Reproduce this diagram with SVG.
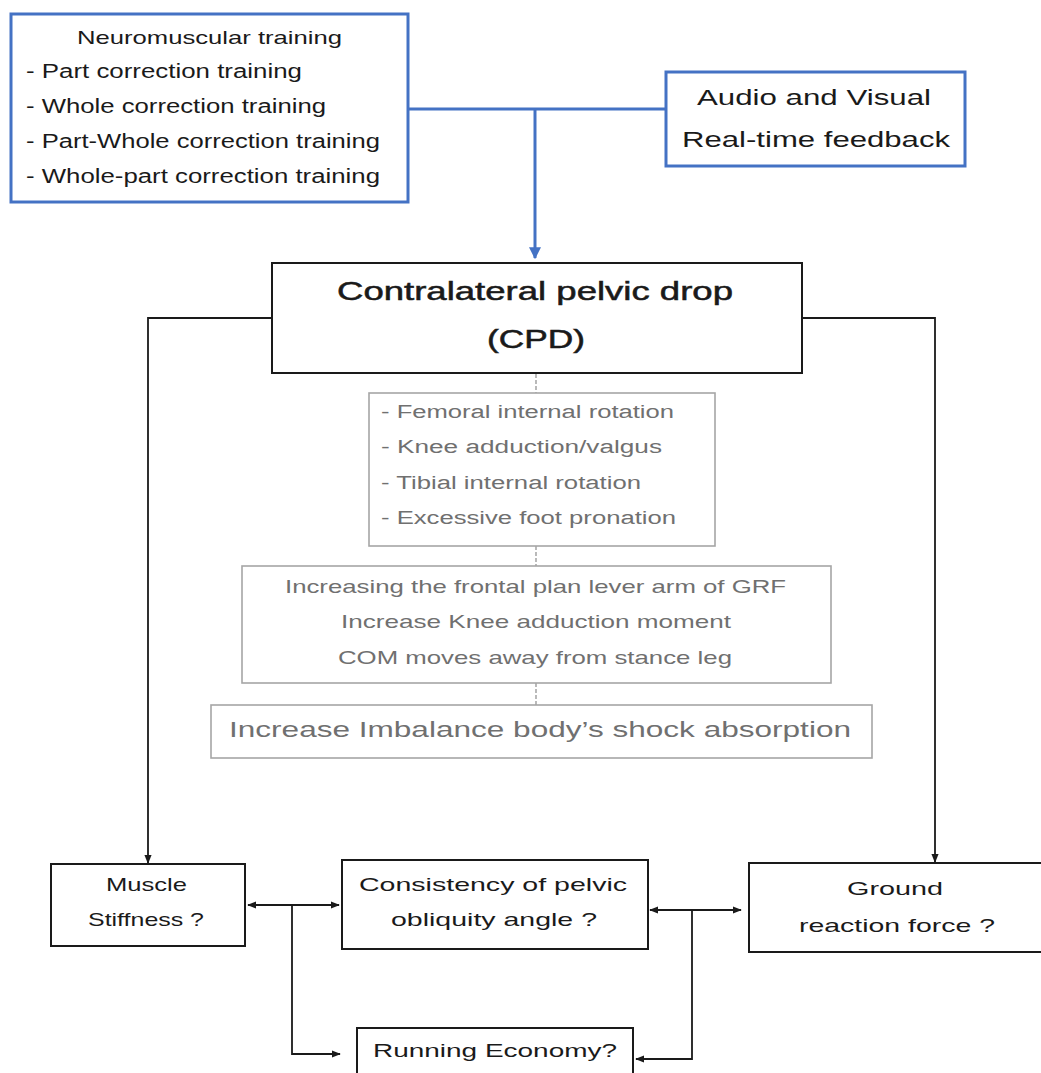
<svg xmlns="http://www.w3.org/2000/svg" width="1041" height="1073" viewBox="0 0 1041 1073">
  <style>
    text { font-family: "Liberation Sans", Arial, sans-serif; fill: #1a1a1a; }
    .blue { fill: #ffffff; stroke: #4472c4; stroke-width: 3; }
    .blk { fill: #ffffff; stroke: #1a1a1a; stroke-width: 2; }
    .gry { fill: #ffffff; stroke: #a6a6a6; stroke-width: 1.6; }
    .gt { fill: #707070; }
    .bl { fill: none; stroke: #4472c4; stroke-width: 3; }
    .kl { fill: none; stroke: #1a1a1a; stroke-width: 1.8; }
    .dl { fill: none; stroke: #8c8c8c; stroke-width: 1.2; stroke-dasharray: 4 2; }
    .cpd { stroke: #1a1a1a; stroke-width: 0.5; }
  </style>
  <defs>
    <marker id="ab" viewBox="0 0 10 10" refX="9" refY="5" markerWidth="4" markerHeight="4" orient="auto" markerUnits="strokeWidth">
      <path d="M0,0 L10,5 L0,10 z" fill="#4472c4"/>
    </marker>
    <marker id="ak" viewBox="0 0 10 10" refX="9" refY="5" markerWidth="5" markerHeight="5" orient="auto-start-reverse" markerUnits="strokeWidth">
      <path d="M0,1 L10,5 L0,9 z" fill="#1a1a1a"/>
    </marker>
  </defs>

  <g id="connectors">
    <path class="bl" d="M408,109 H667"/>
    <path class="bl" d="M535,109 V258" marker-end="url(#ab)"/>
    <path class="kl" d="M272,318 H148 V863" marker-end="url(#ak)"/>
    <path class="kl" d="M802,318 H935 V862" marker-end="url(#ak)"/>
    <path class="dl" d="M536,374 V393"/>
    <path class="dl" d="M536,546 V566"/>
    <path class="dl" d="M536,683 V705"/>
    <path class="kl" d="M248,905 H339" marker-start="url(#ak)" marker-end="url(#ak)"/>
    <path class="kl" d="M292,905 V1054 H340" marker-end="url(#ak)"/>
    <path class="kl" d="M650,910 H741" marker-start="url(#ak)" marker-end="url(#ak)"/>
    <path class="kl" d="M692,910 V1059 H636" marker-end="url(#ak)"/>
  </g>

  <g id="neuromuscular">
    <rect class="blue" x="11" y="14" width="397" height="188"/>
    <text x="77" y="44" font-size="18.5" textLength="265" lengthAdjust="spacingAndGlyphs">Neuromuscular training</text>
    <text x="26" y="78" font-size="19.5" textLength="276" lengthAdjust="spacingAndGlyphs">- Part correction training</text>
    <text x="26" y="113" font-size="19.5" textLength="300" lengthAdjust="spacingAndGlyphs">- Whole correction training</text>
    <text x="26" y="148" font-size="19.5" textLength="354" lengthAdjust="spacingAndGlyphs">- Part-Whole correction training</text>
    <text x="26" y="183" font-size="19.5" textLength="354" lengthAdjust="spacingAndGlyphs">- Whole-part correction training</text>
  </g>

  <g id="feedback">
    <rect class="blue" x="666" y="72" width="299" height="94"/>
    <text x="697" y="105" font-size="22" textLength="234" lengthAdjust="spacingAndGlyphs">Audio and Visual</text>
    <text x="682" y="147" font-size="22" textLength="268" lengthAdjust="spacingAndGlyphs">Real-time feedback</text>
  </g>

  <g id="cpd">
    <rect class="blk" x="272" y="263" width="530" height="110"/>
    <text class="cpd" x="337" y="300" font-size="25" textLength="396" lengthAdjust="spacingAndGlyphs">Contralateral pelvic drop</text>
    <text class="cpd" x="487" y="348" font-size="25" textLength="98" lengthAdjust="spacingAndGlyphs">(CPD)</text>
  </g>

  <g id="kinematics">
    <rect class="gry" x="369" y="393" width="346" height="153"/>
    <text class="gt" x="381" y="418" font-size="18" textLength="293" lengthAdjust="spacingAndGlyphs">- Femoral internal rotation</text>
    <text class="gt" x="381" y="453" font-size="18" textLength="281" lengthAdjust="spacingAndGlyphs">- Knee adduction/valgus</text>
    <text class="gt" x="381" y="489" font-size="18" textLength="260" lengthAdjust="spacingAndGlyphs">- Tibial internal rotation</text>
    <text class="gt" x="381" y="524" font-size="18" textLength="295" lengthAdjust="spacingAndGlyphs">- Excessive foot pronation</text>
  </g>

  <g id="kinetics">
    <rect class="gry" x="242" y="566" width="589" height="117"/>
    <text class="gt" x="285" y="593" font-size="19" textLength="501" lengthAdjust="spacingAndGlyphs">Increasing the frontal plan lever arm of GRF</text>
    <text class="gt" x="341" y="628" font-size="19" textLength="390" lengthAdjust="spacingAndGlyphs">Increase Knee adduction moment</text>
    <text class="gt" x="338" y="664" font-size="19" textLength="394" lengthAdjust="spacingAndGlyphs">COM moves away from stance leg</text>
  </g>

  <g id="shock">
    <rect class="gry" x="211" y="705" width="661" height="53"/>
    <text class="gt" x="229" y="737" font-size="22" textLength="622" lengthAdjust="spacingAndGlyphs">Increase Imbalance body’s shock absorption</text>
  </g>

  <g id="muscle">
    <rect class="blk" x="51" y="864" width="194" height="82"/>
    <text x="106" y="891" font-size="19" textLength="81" lengthAdjust="spacingAndGlyphs">Muscle</text>
    <text x="88" y="926" font-size="19" textLength="116" lengthAdjust="spacingAndGlyphs">Stiffness ?</text>
  </g>

  <g id="obliquity">
    <rect class="blk" x="342" y="860" width="306" height="89"/>
    <text x="359" y="891" font-size="19" textLength="268" lengthAdjust="spacingAndGlyphs">Consistency of pelvic</text>
    <text x="391" y="926" font-size="19" textLength="206" lengthAdjust="spacingAndGlyphs">obliquity angle ?</text>
  </g>

  <g id="grf">
    <rect class="blk" x="749" y="863" width="300" height="89"/>
    <text x="847" y="895" font-size="19" textLength="96" lengthAdjust="spacingAndGlyphs">Ground</text>
    <text x="799" y="932" font-size="19" textLength="196" lengthAdjust="spacingAndGlyphs">reaction force ?</text>
  </g>

  <g id="economy">
    <rect class="blk" x="357" y="1028" width="276" height="60"/>
    <text x="373" y="1057" font-size="19" textLength="244" lengthAdjust="spacingAndGlyphs">Running Economy?</text>
  </g>
</svg>
